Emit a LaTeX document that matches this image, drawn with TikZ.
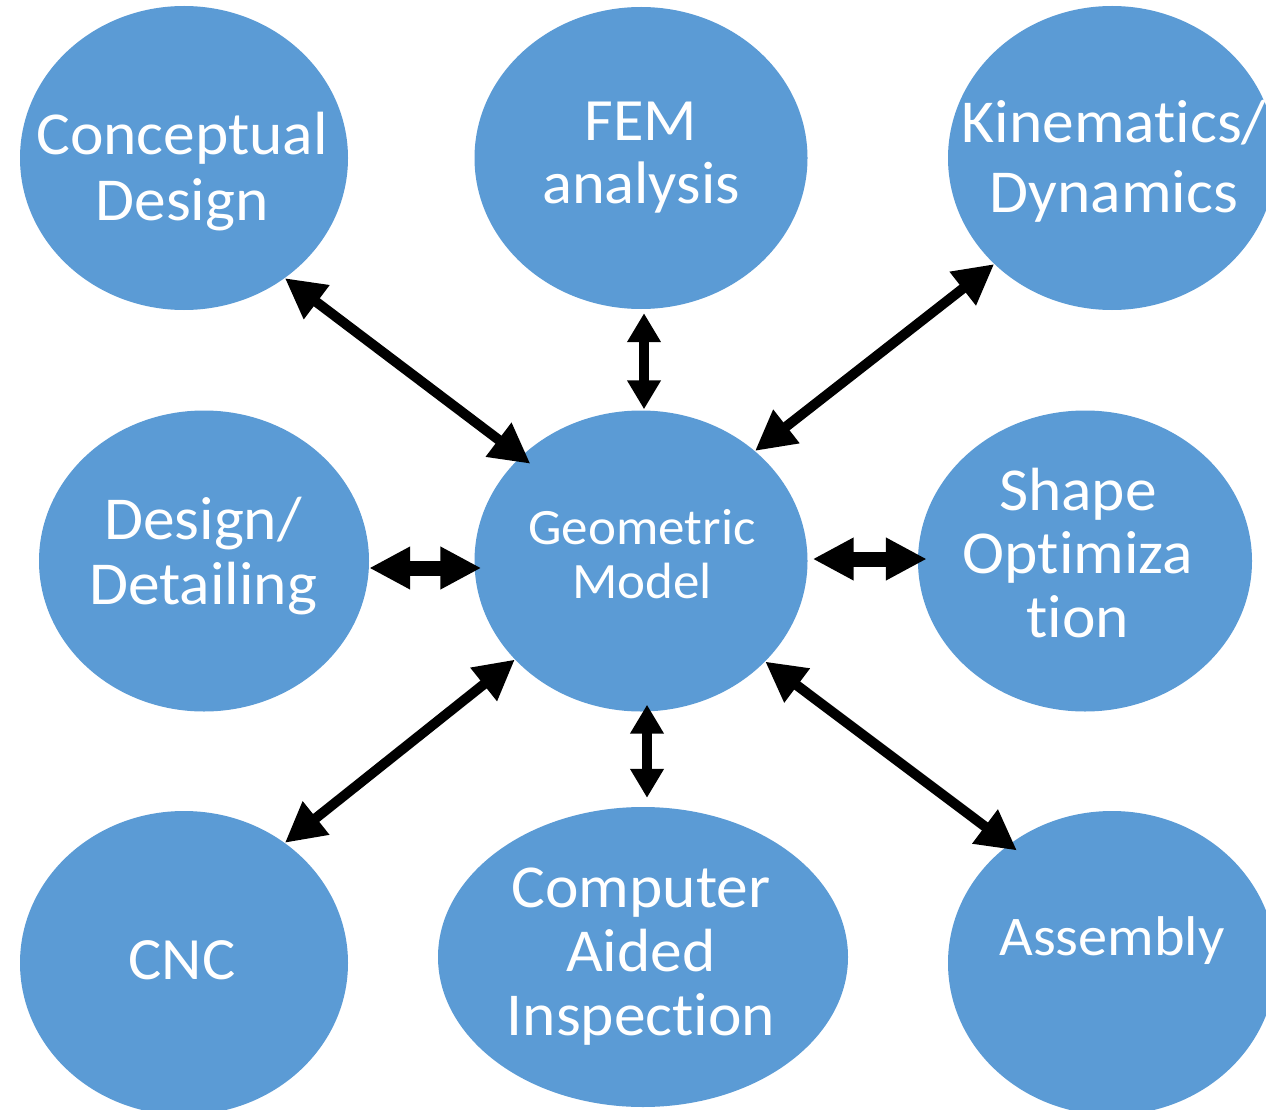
\documentclass[tikz,border=0pt]{standalone}
\usepackage{fontspec}
\setmainfont{Carlito}[FakeStretch=1.04, Ligatures=NoCommon]
\usetikzlibrary{shapes.geometric,arrows.meta}

\definecolor{bubble}{RGB}{91,155,213}

% multi-line label whose baseline is that of its first line
\newcommand{\stacklines}[1]{\begin{tabular}[t]{@{}c@{}}#1\end{tabular}}

\tikzset{
  bubble/.style={ellipse, fill=bubble, draw=none, inner sep=0pt},
  label text/.style={anchor=base, inner sep=0pt, text=white},
  diag/.style={line width=10pt, line join=miter,
    >={Triangle[length=40pt,width=40pt]}, <->},
  vert/.style={line width=10pt, line join=miter,
    >={Triangle[length=29pt,width=32pt]}, <->},
  horz/.style={line width=15pt, line join=miter,
    >={Triangle[length=41pt,width=40pt]}, <->},
}

\begin{document}
\begin{tikzpicture}[x=1pt,y=-1pt]
\path[use as bounding box] (0,0) rectangle (1266,1110);
\clip (0,0) rectangle (1266,1110);
\fill[white] (0,0) rectangle (1266,1110);

% bubbles
\node[bubble, minimum width=328pt, minimum height=304pt] (cd)  at (184,158)  {};
\node[bubble, minimum width=333pt, minimum height=302pt] (fem) at (641,158)  {};
\node[bubble, minimum width=328pt, minimum height=304pt] (km)  at (1112,158) {};
\node[bubble, minimum width=330pt, minimum height=301pt] (dd)  at (204,561)  {};
\node[bubble, minimum width=333pt, minimum height=301pt] (gm)  at (641,561)  {};
\node[bubble, minimum width=334pt, minimum height=301pt] (so)  at (1085,561) {};
\node[bubble, minimum width=328pt, minimum height=304pt] (cnc) at (184,963)  {};
\node[bubble, minimum width=410pt, minimum height=300pt] (cai) at (643,957)  {};
\node[bubble, minimum width=328pt, minimum height=304pt] (asm) at (1112,963) {};

% double-headed links to the geometric model
\draw[diag, shorten >=-12pt] (cd.-50) -- (gm.139);
\draw[vert, shorten <=4pt, shorten >=1pt] ([xshift=3pt]fem.south) -- ([xshift=3pt]gm.north);
\draw[diag] (km.222) -- (gm.44);
\draw[horz, shorten >=-7pt] ([yshift=-7pt]dd.east) -- ([yshift=-7pt]gm.west);
\draw[horz, shorten <=5pt, shorten >=-9pt] ([yshift=2pt]gm.east) -- ([yshift=2pt]so.west);
\draw[diag] (cnc.50) -- (gm.218);
\draw[vert, shorten <=-7pt, shorten >=9pt] ([xshift=6pt]gm.south) -- ([xshift=4pt]cai.north);
\draw[diag, shorten >=-10pt] (gm.-39.5) -- (asm.131.6);

% labels
\node[label text, font=\fontsize{61}{66}\selectfont] (cd-t)  at (182,155)  {\stacklines{Conceptual\\Design}};
\node[label text, font=\fontsize{60}{63}\selectfont] (fem-t) at (641,141)  {\stacklines{FEM\\analysis}};
\node[label text, font=\fontsize{61}{70}\selectfont] (km-t)  at (1114,143) {\stacklines{Kinematics/\\Dynamics}};
\node[label text, font=\fontsize{61}{65}\selectfont] (dd-t)  at (203,539)  {\stacklines{Design/\\Detailing}};
\node[label text, font=\fontsize{51}{54}\selectfont] (gm-t)  at (642,544)  {\stacklines{Geometric\\Model}};
\node[label text, font=\fontsize{61}{63.5}\selectfont] (so-t) at (1078,510) {\stacklines{Shape\\Optimiza\\tion}};
\node[label text, font=\fontsize{60}{64}\selectfont] (cnc-t) at (182,979)  {CNC};
\node[label text, font=\fontsize{61}{64}\selectfont] (cai-t) at (641,907)  {\stacklines{Computer\\Aided\\Inspection}};
\node[label text, font=\fontsize{56}{64}\selectfont] (asm-t) at (1112,955) {Assembly};
\end{tikzpicture}
\end{document}
